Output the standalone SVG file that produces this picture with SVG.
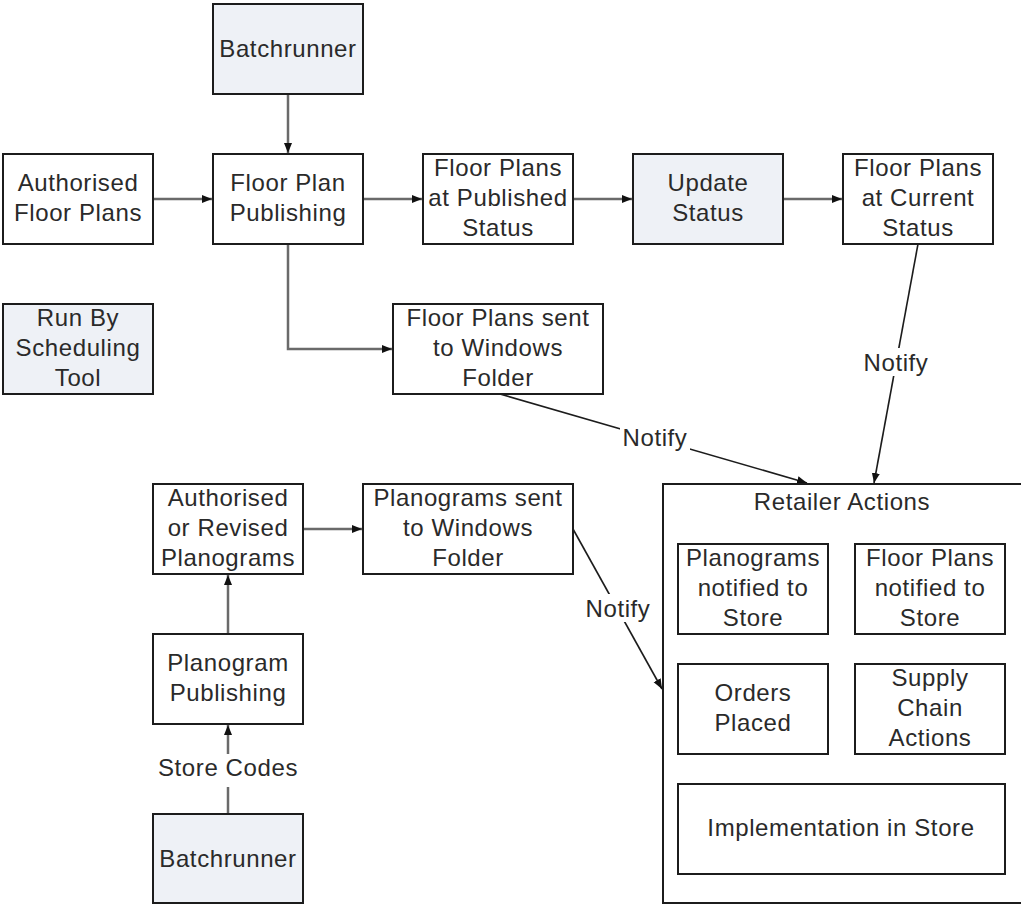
<svg xmlns="http://www.w3.org/2000/svg" width="1021" height="905" viewBox="0 0 1021 905">
  <style>
    .box { fill: #ffffff; stroke: #1c1c1c; stroke-width: 2; }
    .tool { fill: #eef1f6; stroke: #1c1c1c; stroke-width: 2; }
    .lbl { font-family: "Liberation Sans", Arial, sans-serif; font-size: 24px; letter-spacing: 0.6px; fill: #2a2a2a; text-anchor: middle; }
    .flow { fill: none; stroke: #6a6a6a; stroke-width: 2.5; marker-end: url(#arrow); }
    .note { fill: none; stroke: #1c1c1c; stroke-width: 1.6; marker-end: url(#arrow); }
    .plain { fill: none; stroke: #6a6a6a; stroke-width: 2.5; }
  </style>
  <defs>
    <marker id="arrow" viewBox="0 0 10 10" refX="10" refY="5" markerWidth="10" markerHeight="10" markerUnits="userSpaceOnUse" orient="auto">
      <path d="M0,1 L10,5 L0,9 Z" fill="#111111"/>
    </marker>
  </defs>
  <rect width="1021" height="905" fill="#ffffff"/>

  <!-- connectors -->
  <g id="connectors">
    <line class="flow" x1="288" y1="94" x2="288" y2="153"/>
    <line class="flow" x1="153" y1="199" x2="212" y2="199"/>
    <line class="flow" x1="363" y1="199" x2="422" y2="199"/>
    <line class="flow" x1="573" y1="199" x2="632" y2="199"/>
    <line class="flow" x1="783" y1="199" x2="842" y2="199"/>
    <polyline class="flow" points="288,244 288,349 392,349"/>
    <line class="note" x1="500" y1="394" x2="807" y2="483"/>
    <line class="note" x1="918" y1="244" x2="874" y2="483"/>
    <line class="flow" x1="303" y1="529" x2="362" y2="529"/>
    <line class="note" x1="573" y1="529" x2="662" y2="689"/>
    <line class="flow" x1="228" y1="634" x2="228" y2="575"/>
    <line class="plain" x1="228" y1="814" x2="228" y2="787"/>
    <line class="flow" x1="228" y1="754" x2="228" y2="725"/>
    <!-- connector labels -->
    <rect x="620" y="424" width="70" height="26" fill="#ffffff"/>
    <text class="lbl" x="655" y="446">Notify</text>
    <rect x="861" y="348" width="70" height="28" fill="#ffffff"/>
    <text class="lbl" x="896" y="371">Notify</text>
    <rect x="583" y="594" width="70" height="28" fill="#ffffff"/>
    <text class="lbl" x="618" y="617">Notify</text>
    <text class="lbl" x="228" y="776">Store Codes</text>
  </g>

  <g id="batchrunner-top">
    <rect class="tool" x="213" y="4" width="150" height="90"/>
    <text class="lbl" x="288" y="57">Batchrunner</text>
  </g>
  <g id="authorised-floor-plans">
    <rect class="box" x="3" y="154" width="150" height="90"/>
    <text class="lbl" x="78" y="191">Authorised</text>
    <text class="lbl" x="78" y="221">Floor Plans</text>
  </g>
  <g id="floor-plan-publishing">
    <rect class="box" x="213" y="154" width="150" height="90"/>
    <text class="lbl" x="288" y="191">Floor Plan</text>
    <text class="lbl" x="288" y="221">Publishing</text>
  </g>
  <g id="floor-plans-published">
    <rect class="box" x="423" y="154" width="150" height="90"/>
    <text class="lbl" x="498" y="176">Floor Plans</text>
    <text class="lbl" x="498" y="206">at Published</text>
    <text class="lbl" x="498" y="236">Status</text>
  </g>
  <g id="update-status">
    <rect class="tool" x="633" y="154" width="150" height="90"/>
    <text class="lbl" x="708" y="191">Update</text>
    <text class="lbl" x="708" y="221">Status</text>
  </g>
  <g id="floor-plans-current">
    <rect class="box" x="843" y="154" width="150" height="90"/>
    <text class="lbl" x="918" y="176">Floor Plans</text>
    <text class="lbl" x="918" y="206">at Current</text>
    <text class="lbl" x="918" y="236">Status</text>
  </g>
  <g id="run-by-scheduling-tool">
    <rect class="tool" x="3" y="304" width="150" height="90"/>
    <text class="lbl" x="78" y="326">Run By</text>
    <text class="lbl" x="78" y="356">Scheduling</text>
    <text class="lbl" x="78" y="386">Tool</text>
  </g>
  <g id="floor-plans-sent">
    <rect class="box" x="393" y="304" width="210" height="90"/>
    <text class="lbl" x="498" y="326">Floor Plans sent</text>
    <text class="lbl" x="498" y="356">to Windows</text>
    <text class="lbl" x="498" y="386">Folder</text>
  </g>
  <g id="authorised-planograms">
    <rect class="box" x="153" y="484" width="150" height="90"/>
    <text class="lbl" x="228" y="506">Authorised</text>
    <text class="lbl" x="228" y="536">or Revised</text>
    <text class="lbl" x="228" y="566">Planograms</text>
  </g>
  <g id="planograms-sent">
    <rect class="box" x="363" y="484" width="210" height="90"/>
    <text class="lbl" x="468" y="506">Planograms sent</text>
    <text class="lbl" x="468" y="536">to Windows</text>
    <text class="lbl" x="468" y="566">Folder</text>
  </g>
  <g id="planogram-publishing">
    <rect class="box" x="153" y="634" width="150" height="90"/>
    <text class="lbl" x="228" y="671">Planogram</text>
    <text class="lbl" x="228" y="701">Publishing</text>
  </g>
  <g id="batchrunner-bottom">
    <rect class="tool" x="153" y="814" width="150" height="89"/>
    <text class="lbl" x="228" y="867">Batchrunner</text>
  </g>

  <g id="retailer-actions">
    <rect class="box" x="663" y="484" width="400" height="419"/>
    <text class="lbl" x="842" y="510">Retailer Actions</text>
    <g id="planograms-notified">
      <rect class="box" x="678" y="544" width="150" height="90"/>
      <text class="lbl" x="753" y="566">Planograms</text>
      <text class="lbl" x="753" y="596">notified to</text>
      <text class="lbl" x="753" y="626">Store</text>
    </g>
    <g id="floor-plans-notified">
      <rect class="box" x="855" y="544" width="150" height="90"/>
      <text class="lbl" x="930" y="566">Floor Plans</text>
      <text class="lbl" x="930" y="596">notified to</text>
      <text class="lbl" x="930" y="626">Store</text>
    </g>
    <g id="orders-placed">
      <rect class="box" x="678" y="664" width="150" height="90"/>
      <text class="lbl" x="753" y="701">Orders</text>
      <text class="lbl" x="753" y="731">Placed</text>
    </g>
    <g id="supply-chain-actions">
      <rect class="box" x="855" y="664" width="150" height="90"/>
      <text class="lbl" x="930" y="686">Supply</text>
      <text class="lbl" x="930" y="716">Chain</text>
      <text class="lbl" x="930" y="746">Actions</text>
    </g>
    <g id="implementation-in-store">
      <rect class="box" x="678" y="784" width="327" height="90"/>
      <text class="lbl" x="841" y="836">Implementation in Store</text>
    </g>
  </g>
</svg>
